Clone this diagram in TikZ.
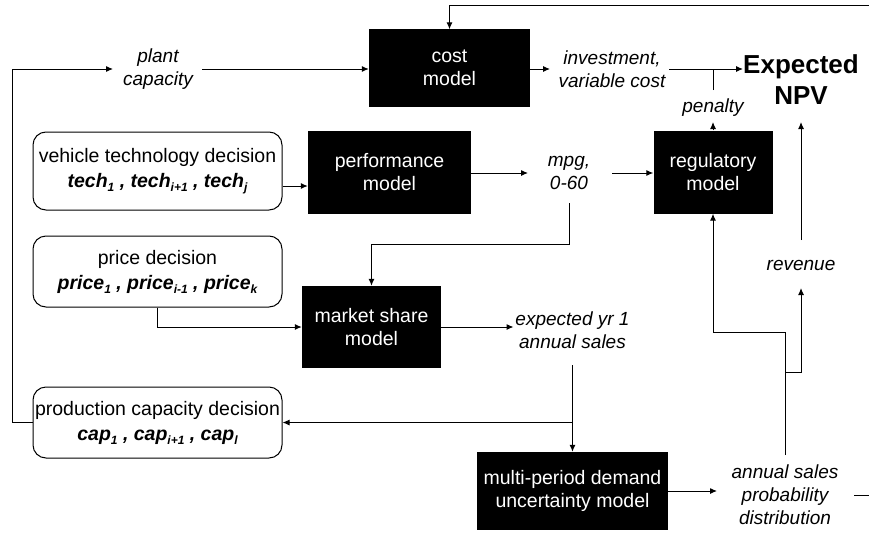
\documentclass[tikz,border=0pt]{standalone}
\usepackage{fontspec}
\setmainfont{Liberation Sans}
\usetikzlibrary{arrows.meta}
% small lowered index for the decision variables
\newcommand\lowidx[1]{\raisebox{-0.4ex}{\fontsize{12}{12}\selectfont #1}}
\begin{document}
\begin{tikzpicture}[x=1pt,y=-1pt,
  model/.style={fill=black,text=white,inner sep=0pt,align=center,
    font=\fontsize{19.5}{23}\selectfont},
  decision/.style={draw=black,line width=1pt,rounded corners=13pt,fill=white,
    inner sep=0pt,align=center,font=\fontsize{19.5}{25}\selectfont,
    minimum width=249pt},
  label/.style={inner sep=0pt,align=center,font=\itshape\fontsize{19}{23}\selectfont},
  wire/.style={draw=black,line width=1pt},
  arr/.style={wire,-{Latex[length=7pt,width=6pt]}}
]
\useasboundingbox (0,0) rectangle (869,535);
\clip (0,0) rectangle (869,535);
\fill[white] (0,0) rectangle (869,535);

% black model blocks
\node[model,minimum width=161pt,minimum height=77pt] (cost) at (449.5,68) {cost\\model};
\node[model,minimum width=163pt,minimum height=83pt] (perf) at (389.5,172) {performance\\model};
\node[model,minimum width=119pt,minimum height=83pt] (reg) at (713,172) {regulatory\\model};
\node[model,minimum width=139pt,minimum height=82pt] (mkt) at (371.5,327) {market share\\model};
\node[model,minimum width=191pt,minimum height=78pt] (multi) at (572.5,491) {multi-period demand\\uncertainty model};

% decision boxes
\node[decision,minimum height=78pt] (veh) at (157.5,171)
  {vehicle technology decision\\{\bfseries\itshape tech\lowidx{1} , tech\lowidx{i+1} , tech\lowidx{j}}};
\node[decision,minimum height=71pt] (price) at (157.5,271.5)
  {price decision\\{\bfseries\itshape price\lowidx{1} , price\lowidx{i-1} , price\lowidx{k}}};
\node[decision,minimum height=71pt] (prod) at (157.5,422.5)
  {production capacity decision\\{\bfseries\itshape cap\lowidx{1} , cap\lowidx{i+1} , cap\lowidx{l}}};

% quantities passed between the blocks
\node[label] (plant) at (158,69) {plant\\capacity};
\node[label] (inv) at (612,69) {investment,\\variable cost};
\node[inner sep=0pt,align=center,font=\bfseries\fontsize{26}{31}\selectfont] (npv) at (801,80) {Expected\\NPV};
\node[label] (penalty) at (713,108) {penalty};
\node[label] (mpg) at (569,173) {mpg,\\0-60};
\node[label] (rev) at (801,265) {revenue};
\node[label] (exp) at (572.5,330) {expected yr 1\\annual sales};
\node[label] (annual) at (785,495) {annual sales\\probability\\distribution};

% routing points
\coordinate (lx) at (12,0);
\coordinate (far) at (884,6);
\coordinate (midrow) at (0,244);
\coordinate (vrow) at (0,186);
\coordinate (bend) at (785,332);
\coordinate (split) at (785,372);

% capacity loop on the left
\draw[arr] (prod.west) -- (prod.west -| lx) |- ([xshift=-45pt]plant.center);
\draw[arr] ([xshift=44pt]plant.center) -- (cost.west |- plant.center);

% cost branch
\draw[arr] (cost.east |- inv.center) -- ([xshift=-62pt]inv.center);
\draw[arr] ([xshift=57pt]inv.center) -- (inv.center -| npv.west);
\draw[wire] ([yshift=18pt]penalty.center) -- (penalty.center |- inv.center);
\draw[arr] (reg.north) -- ([yshift=-14pt]penalty.center);

% demand feedback over the top
\draw[arr] ([xshift=69pt]annual.center) -| (far) -| (cost.north);

% technology and performance
\draw[arr] (veh.east |- vrow) -- (perf.west |- vrow);
\draw[arr] (perf.east |- mpg.center) -- ([xshift=-41pt]mpg.center);
\draw[arr] ([xshift=43pt]mpg.center) -- (reg.west |- mpg.center);
\draw[arr] ([yshift=-30pt]mpg.center) -- (mpg.center |- midrow) -| (mkt.north);

% price and market share
\draw[arr] (price.south) |- (mkt.west);
\draw[arr] (mkt.east) -- ([xshift=-59pt]exp.center |- mkt.east);
\draw[arr] ([yshift=-35pt]exp.center) -- (multi.north);
\draw[arr] (prod.east -| multi.north) -- (prod.east);

% demand uncertainty outputs
\draw[arr] (multi.east) -- ([xshift=-68pt]annual.center |- multi.east);
\draw[arr] ([yshift=40pt]annual.center) -- (bend) -| (reg.south);
\draw[arr] (split) -| ([yshift=-23pt]rev.center);
\draw[arr] ([yshift=25pt]rev.center) -- ([yshift=-42pt]npv.center);
\end{tikzpicture}
\end{document}
